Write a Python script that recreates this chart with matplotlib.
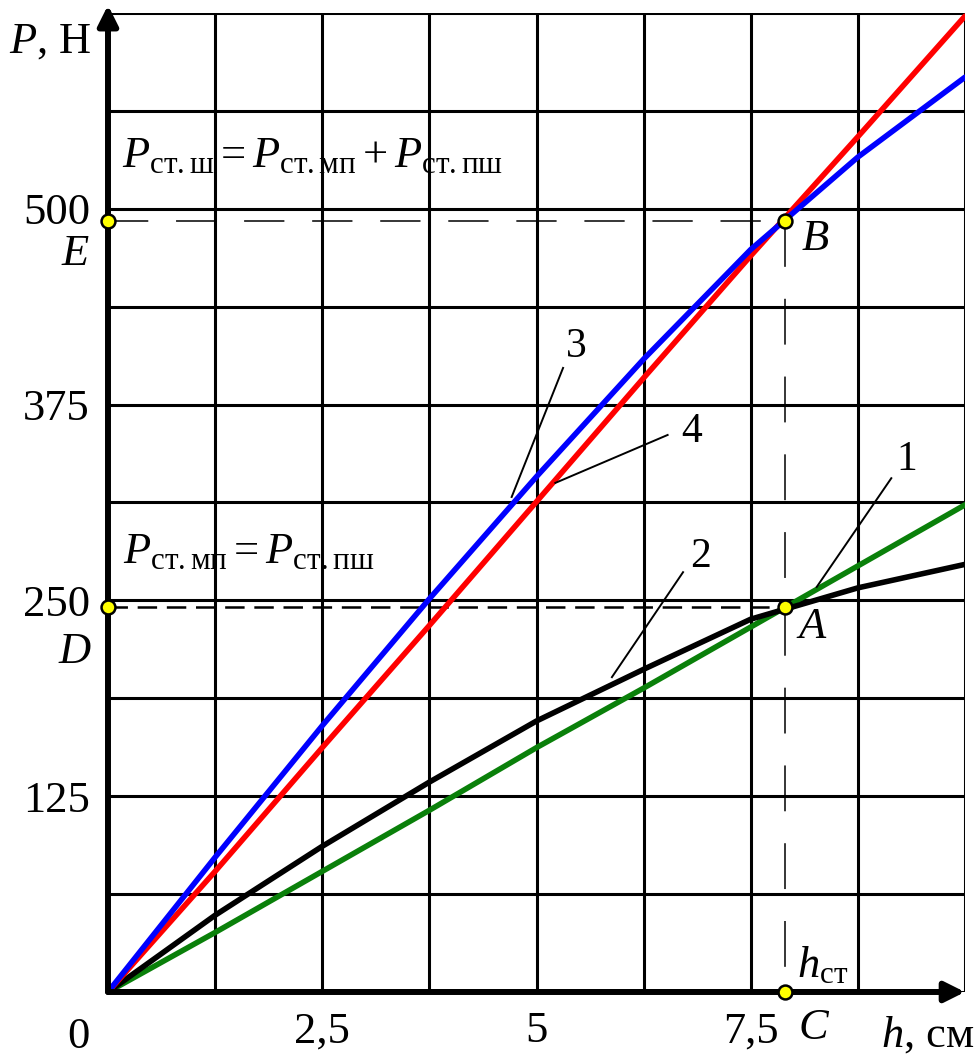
import numpy as np
import matplotlib
matplotlib.use('Agg')
import matplotlib.pyplot as plt

plt.rcParams['font.family'] = ['Liberation Serif', 'DejaVu Serif']
plt.rcParams['mathtext.fontset'] = 'custom'
plt.rcParams['mathtext.rm'] = 'Liberation Serif'
plt.rcParams['mathtext.it'] = 'Liberation Serif:italic'
plt.rcParams['lines.scale_dashes'] = False

# deflection h, cm
h = [0, 1.25, 2.5, 3.75, 5, 6.25, 7.5, 8.75, 10]
# 1 - green, 2 - black, 3 - blue, 4 - red  (P, N)
p1 = [0, 38, 77, 116, 156, 194, 233, 272, 311]
p2 = [0, 49, 93, 134, 173, 206, 238, 258, 273]
p3 = [0, 86, 170, 251, 329, 404, 474, 533, 584]
p4 = [0, 77, 156, 234, 313, 392, 470, 546, 623]

h_st = 7.9
P_A = 246
P_B = 492

xticks = [2.5, 5, 7.5]
xlabels = ['2,5', '5', '7,5']
yticks = [125, 250, 375, 500]
ylabels = ['125', '250', '375', '500']

fig = plt.figure(figsize=(9.8, 10.63), dpi=100)
ax = fig.add_axes([0.1102, 0.0668, 0.8745, 0.921])
ax.set_xlim(0, 10)
ax.set_ylim(0, 625)

for s in ax.spines.values():
	s.set_visible(False)

ax.set_xticks(np.arange(0, 10.01, 1.25), minor=True)
ax.set_yticks(np.arange(0, 625.1, 62.5), minor=True)
ax.set_xticks(xticks)
ax.set_xticklabels(xlabels)
ax.set_yticks(yticks)
ax.set_yticklabels(ylabels)
ax.tick_params(which='both', length=0, labelsize=32)
ax.tick_params(axis='x', pad=14)
ax.tick_params(axis='y', pad=13)
ax.grid(which='both', color='k', lw=2.2, zorder=0)
ax.set_axisbelow(True)

# axes arrows
ax.annotate('', xy=(1, 0), xytext=(0, 0), xycoords='axes fraction',
	arrowprops=dict(arrowstyle='-|>', lw=4.3, color='k', mutation_scale=30, shrinkA=0, shrinkB=0), zorder=5)
ax.annotate('', xy=(0, 1.008), xytext=(0, 0), xycoords='axes fraction',
	arrowprops=dict(arrowstyle='-|>', lw=4.3, color='k', mutation_scale=30, shrinkA=0, shrinkB=0), zorder=5)

# curves
ax.plot(h, p1, color='#0a800a', lw=4, zorder=3, solid_capstyle='round', solid_joinstyle='round')
ax.plot(h, p2, color='k', lw=4, zorder=3, solid_capstyle='round', solid_joinstyle='round')
ax.plot(h, p4, color='#ff0000', lw=4, zorder=3, solid_capstyle='round', solid_joinstyle='round')
ax.plot(h, p3, color='#0000ff', lw=4, zorder=3, solid_capstyle='round', solid_joinstyle='round')

# dashed construction lines
ax.plot([0, h_st], [P_B, P_B], color='k', lw=1.1, dashes=(29, 20), zorder=2)
ax.plot([h_st, h_st], [P_B, 0], color='k', lw=1.1, dashes=(33, 23), zorder=2)
ax.plot([0, h_st], [P_A, P_A], color='k', lw=1.8, dashes=(14, 7), zorder=2)

# points
ax.plot([h_st, h_st, h_st, 0, 0], [P_A, P_B, 0, P_A, P_B], 'o', ms=10, mfc='#ffff00',
	mec='k', mew=1.8, zorder=6, clip_on=False)

# leader lines and curve numbers
leaders = [((5.31, 398.4), (4.71, 316)), ((6.53, 355.6), (5.22, 325)),
	((9.14, 328), (8.27, 258.6)), ((6.71, 268), (5.88, 201))]
for (a, b) in leaders:
	ax.plot([a[0], b[0]], [a[1], b[1]], color='k', lw=1.4, zorder=4)
ax.text(5.47, 411.8, '3', fontsize=30, ha='center', va='center')
ax.text(6.81, 357.5, '4', fontsize=30, ha='center', va='center')
ax.text(9.32, 339.6, '1', fontsize=30, ha='center', va='center')
ax.text(6.91, 277.7, '2', fontsize=30, ha='center', va='center')

# formulas
ax.text(0.163, 534, r'$P_{\mathrm{ст{.}ш}} = P_{\mathrm{ст{.}мп}} + P_{\mathrm{ст{.}пш}}$',
	fontsize=32, ha='left', va='center')
ax.text(0.175, 281, r'$P_{\mathrm{ст{.}мп}} = P_{\mathrm{ст{.}пш}}$',
	fontsize=32, ha='left', va='center')

# point letters
ax.text(-0.385, 471, 'E', fontsize=32, style='italic', ha='center', va='center')
ax.text(-0.385, 217, 'D', fontsize=32, style='italic', ha='center', va='center')
ax.text(8.25, 481, 'B', fontsize=32, style='italic', ha='center', va='center')
ax.text(8.21, 233, 'A', fontsize=32, style='italic', ha='center', va='center')
ax.text(8.23, -23, 'C', fontsize=32, style='italic', ha='center', va='center')
ax.text(8.04, 17, r'$h_{\mathrm{ст}}$', fontsize=32, ha='left', va='center')

# axis labels
ax.text(-0.35, -28.7, '0', fontsize=32, ha='center', va='center')
ax.text(9.56, -27.5, r'$h$, см', fontsize=32, ha='center', va='center')
ax.text(-0.677, 606.5, r'$P$, Н', fontsize=32, ha='center', va='center')

plt.savefig('out.png', dpi=100)
